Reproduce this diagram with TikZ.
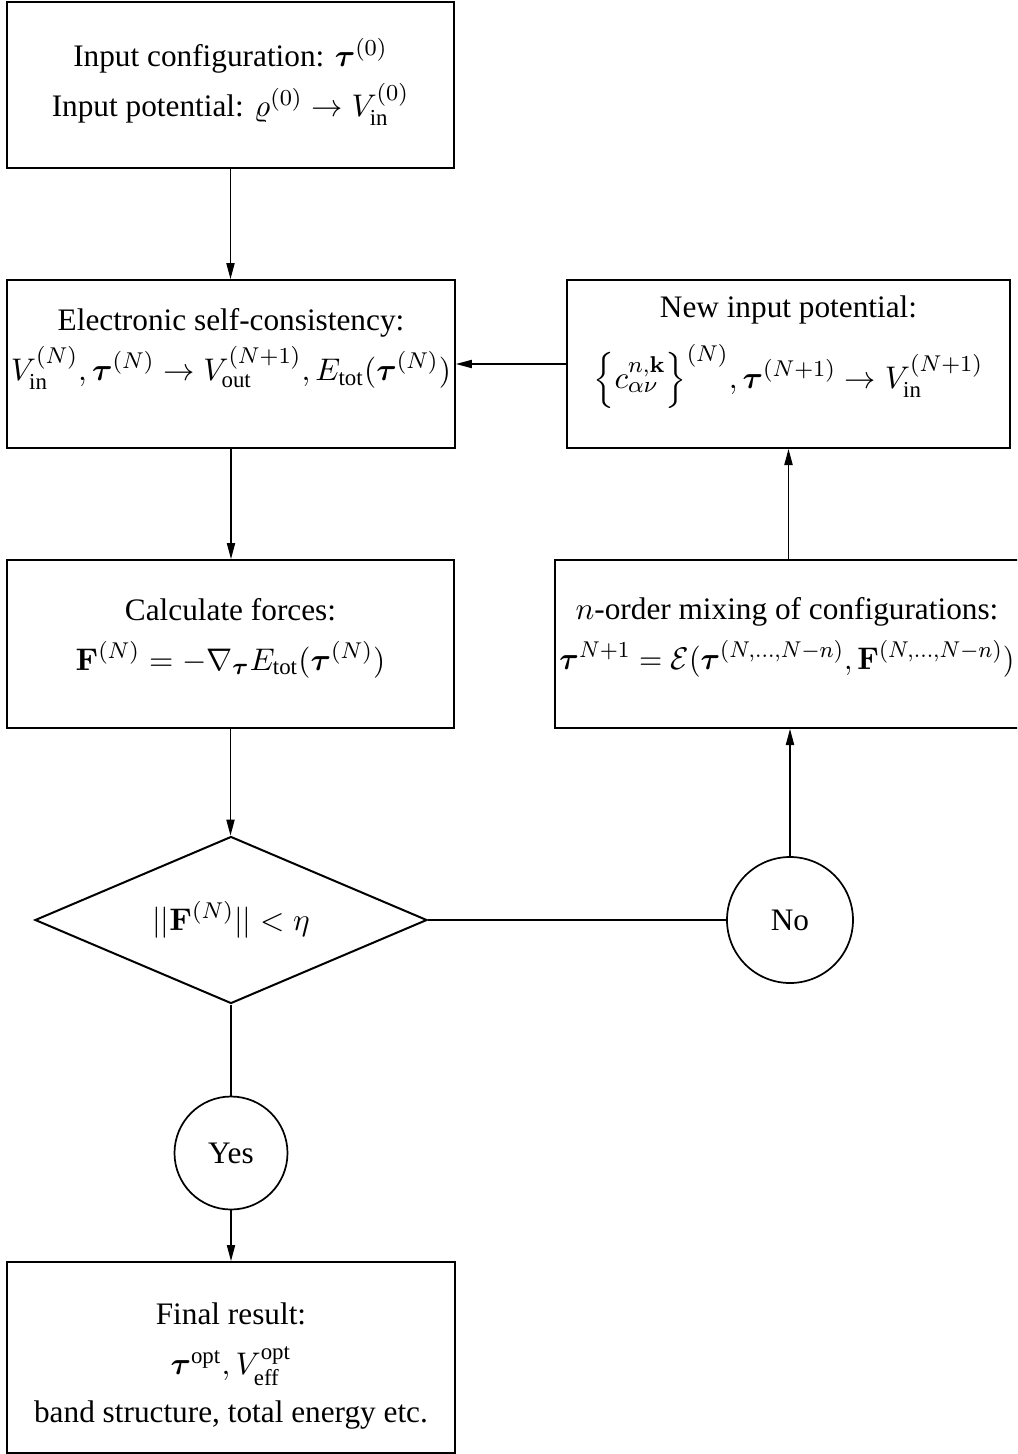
\documentclass[tikz,border=0pt]{standalone}
\usepackage{amsmath}
\usepackage{graphicx}
\usepackage[no-math]{fontspec}
\setmainfont{Liberation Serif}
\usetikzlibrary{shapes.geometric,arrows.meta}
\tikzset{
  box/.style={draw, line width=0.7pt, rectangle, inner sep=0pt},
  txt/.style={align=center, inner sep=0pt, font=\fontsize{10.95}{17.5}\selectfont},
  decision/.style={draw, line width=0.7pt, diamond, inner sep=0pt, minimum width=137.2pt, minimum height=58.45pt},
  answer/.style={draw, line width=0.6pt, circle, inner sep=0pt, font=\fontsize{10.95}{17.5}\selectfont},
  conn/.style={line width=0.4pt},
  arr/.style={conn, -{Triangle[length=5.6pt,width=2.9pt]}}
}
\begin{document}
\begin{tikzpicture}[x=0.35pt, y=-0.35pt]
\path[use as bounding box] (0,0) rectangle (1017,1454);
\clip (0,0) rectangle (1017,1454);
% boxes
\node[box, minimum width=156.45pt, minimum height=58.1pt] (top) at (230.5,85) {};
\node[txt] (toptext) at (230.5,82) {Input configuration: $\boldsymbol{\tau}^{(0)}$\\Input potential: $\varrho^{(0)}\rightarrow V^{(0)}_{\text{in}}$};

\node[box, minimum width=156.8pt, minimum height=58.8pt] (elec) at (231,364) {};
\node[txt] (electext) at (231,349) {Electronic self-consistency:\\$V^{(N)}_{\text{in}},\boldsymbol{\tau}^{(N)}\rightarrow V^{(N+1)}_{\text{out}}, E_{\text{tot}}(\boldsymbol{\tau}^{(N)})$};

\node[box, minimum width=155.05pt, minimum height=58.8pt] (newin) at (788.5,364) {};
\node[txt] (newintext) at (788.5,352) {New input potential:\\[6pt]$\Big\{c^{n,\mathbf{k}}_{\alpha\nu}\Big\}^{(N)},\boldsymbol{\tau}^{(N+1)}\rightarrow V^{(N+1)}_{\text{in}}$};

\node[box, minimum width=156.45pt, minimum height=58.8pt] (calc) at (230.5,644) {};
\node[txt] (calctext) at (230.5,638) {Calculate forces:\\$\mathbf{F}^{(N)}=-\nabla_{\boldsymbol{\tau}}E_{\text{tot}}(\boldsymbol{\tau}^{(N)})$};

\node[box, minimum width=163.8pt, minimum height=58.8pt] (mix) at (789,644) {};
\node[txt] (mixtext) at (787,637) {$n$-order mixing of configurations:\\\scalebox{0.955}[1]{$\boldsymbol{\tau}^{N+1}=\mathcal{E}(\boldsymbol{\tau}^{(N,\ldots,N-n)},\mathbf{F}^{(N,\ldots,N-n)})$}};

\node[decision] (dia) at (231,920) {};
\node[txt] (diatext) at (231,920) {$||\mathbf{F}^{(N)}||<\eta$};

\node[answer, minimum size=44.1pt] (no) at (790,920) {No};
\node[answer, minimum size=39.55pt] (yes) at (231,1153) {Yes};

\node[box, minimum width=156.8pt, minimum height=66.85pt] (final) at (231,1357.5) {};
\node[txt] (finaltext) at (231,1366) {Final result:\\$\boldsymbol{\tau}^{\text{opt}},V^{\text{opt}}_{\text{eff}}$\\[-1pt]band structure, total energy etc.};

% connectors
\draw[arr] (top.south) -- (top.south |- elec.north);
\draw[arr] (elec.south) -- (elec.south |- calc.north);
\draw[arr] (calc.south) -- (calc.south |- dia.north);
\draw[conn] (dia.south) -- (yes.north);
\draw[arr] (yes.south) -- (yes.south |- final.north);
\draw[conn] (dia.east) -- (no.west);
\draw[arr] (no.north) -- (no.north |- mix.south);
\draw[arr] (newin.south |- mix.north) -- (newin.south);
\draw[arr] (newin.west) -- (elec.east);
\end{tikzpicture}
\end{document}
